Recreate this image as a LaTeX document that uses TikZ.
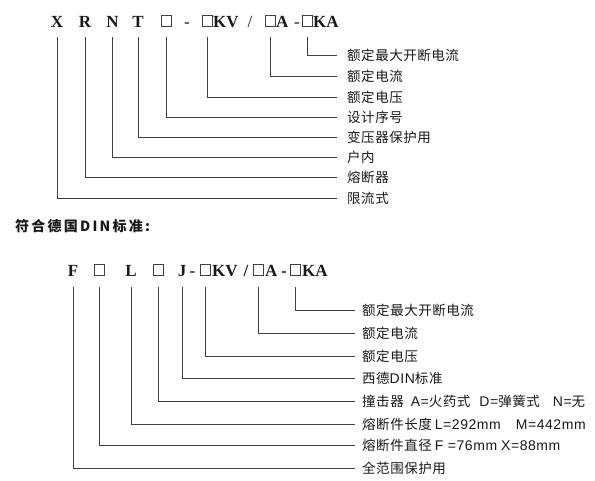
\documentclass[tikz,border=0pt]{standalone}
\usepackage{fontspec}
\setmainfont{Liberation Serif}
\newfontfamily\cjk{Noto Sans CJK SC}[LetterSpace=4]
\newfontfamily\lat{Liberation Sans}[LetterSpace=4]
\newfontfamily\cjkhead{Noto Sans CJK SC}[LetterSpace=16]
\newcommand{\latin}[1]{{\lat\fontsize{14}{14}\selectfont #1}}

\begin{document}
\begin{tikzpicture}[x=1pt, y=-1pt,
  code/.style={font=\fontsize{17}{17}\selectfont\bfseries, inner sep=0pt, anchor=base, text=black!90},
  joiner/.style={code, font=\fontsize{17}{17}\selectfont},
  box/.style={draw=black!75, line width=0.6pt, minimum width=10pt, minimum height=10.5pt, inner sep=0pt, anchor=south},
  lbl/.style={font=\cjk\fontsize{13.5}{13.5}\selectfont, inner sep=0pt, anchor=west, text=black!90},
  lead/.style={draw=black!75, line width=0.9pt}]
\useasboundingbox (0,0) rectangle (595,480);
% Nodes: XRNT code
\node[code] (c1) at (57,27) {X};
\node[code] (c2) at (85,27) {R};
\node[code] (c3) at (112.5,27) {N};
\node[code] (c4) at (138,27) {T};
\node[box] (c5) at (166,26.5) {};
\node[joiner] (d1) at (187,27) {-};
\node[box] (c6) at (207,26.5) {};
\node[code, anchor=base west] (kv1) at (213,27) {KV};
\node[joiner] (s1) at (250,27) {/};
\node[box] (c7) at (270,26.5) {};
\node[code, anchor=base west] (a1) at (276,27) {A};
\node[joiner] (d2) at (297,27) {-};
\node[box] (c8) at (307,26.5) {};
\node[code, anchor=base west] (ka1) at (313,27) {KA};
% Labels
\node[lbl] (l1) at (347,55) {额定最大开断电流};
\node[lbl] (l2) at (347,76.5) {额定电流};
\node[lbl] (l3) at (347,97.5) {额定电压};
\node[lbl] (l4) at (347,117) {设计序号};
\node[lbl] (l5) at (347,137) {变压器保护用};
\node[lbl] (l6) at (347,157.3) {户内};
\node[lbl] (l7) at (347,177.8) {熔断器};
\node[lbl] (l8) at (347,198) {限流式};
% Edges
\draw[lead] ([yshift=-10pt]c8.south) |- ([xshift=-10pt]l1.west);
\draw[lead] ([yshift=-10pt]c7.south) |- ([xshift=-10pt]l2.west);
\draw[lead] ([yshift=-10pt]c6.south) |- ([xshift=-10pt]l3.west);
\draw[lead] ([yshift=-10pt]c5.south) |- ([xshift=-10pt]l4.west);
\draw[lead] ([yshift=-10pt]c4.base) |- ([xshift=-10pt]l5.west);
\draw[lead] ([yshift=-10pt]c3.base) |- ([xshift=-10pt]l6.west);
\draw[lead] ([yshift=-10pt]c2.base) |- ([xshift=-10pt]l7.west);
\draw[lead] ([yshift=-10pt]c1.base) |- ([xshift=-10pt]l8.west);

% Title
\node[font=\cjkhead\fontsize{14}{14}\selectfont\bfseries, inner sep=0pt, anchor=west, text=black!90] (t) at (15,226.5) {符合德国DIN标准:};

% Nodes: FL code
\node[code] (f1) at (73,276) {F};
\node[box] (f2) at (99.5,275.5) {};
\node[code] (f3) at (131,276) {L};
\node[box] (f4) at (158,275.5) {};
\node[code] (f5) at (182,276) {J};
\node[code] (d3) at (192.5,276) {-};
\node[box] (f6) at (205.5,275.5) {};
\node[code, anchor=base west] (kv2) at (212,276) {KV};
\node[code] (s2) at (246,276) {/};
\node[box] (f7) at (258.5,275.5) {};
\node[code, anchor=base west] (a2) at (265,276) {A};
\node[code] (d4) at (284,276) {-};
\node[box] (f8) at (295.5,275.5) {};
\node[code, anchor=base west] (ka2) at (302,276) {KA};
% Labels
\node[lbl] (m1) at (362,310.5) {额定最大开断电流};
\node[lbl] (m2) at (362,333) {额定电流};
\node[lbl] (m3) at (362,356) {额定电压};
\node[lbl] (m4) at (362,378.5) {西德\latin{DIN}标准};
\node[lbl] (m5) at (362,401.5) {撞击器\hspace{7pt}\latin{A=}火药式\hspace{9pt}\latin{D=}弹簧式\hspace{13pt}\latin{N=}无};
\node[lbl] (m6) at (362,424) {熔断件长度\hspace{3pt}\latin{L=292mm\hspace{15pt}M=442mm}};
\node[lbl] (m7) at (362,445) {熔断件直径\hspace{3pt}\latin{F =76mm\hspace{4pt}X=88mm}};
\node[lbl] (m8) at (362,468) {全范围保护用};
% Edges
\draw[lead] ([yshift=-11pt]f8.south) |- ([xshift=-7pt]m1.west);
\draw[lead] ([yshift=-11pt]f7.south) |- ([xshift=-7pt]m2.west);
\draw[lead] ([yshift=-11pt]f6.south) |- ([xshift=-7pt]m3.west);
\draw[lead] ([yshift=-11pt]f5.base) |- ([xshift=-7pt]m4.west);
\draw[lead] ([yshift=-11pt]f4.south) |- ([xshift=-7pt]m5.west);
\draw[lead] ([yshift=-11pt]f3.base) |- ([xshift=-7pt]m6.west);
\draw[lead] ([yshift=-11pt]f2.south) |- ([xshift=-7pt]m7.west);
\draw[lead] ([yshift=-11pt]f1.base) |- ([xshift=-7pt]m8.west);
\end{tikzpicture}
\end{document}
